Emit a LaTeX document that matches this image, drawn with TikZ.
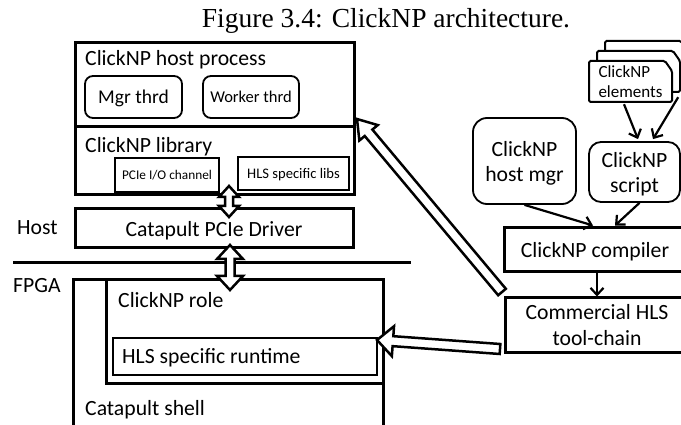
\documentclass[tikz,border=0pt]{standalone}
\usepackage{fontspec}
\setmainfont{Carlito}
\newfontfamily\capfont{Liberation Serif}
\usetikzlibrary{positioning,arrows.meta,calc}

\newcommand{\fatarrow}[5]{%
  \coordinate (fa-n) at ($(#2)!#5!(#1)$);
  \draw[hollow] ($(#1)!#3!90:(#2)$) -- ($(fa-n)!#3!-90:(#1)$) -- ($(fa-n)!#4!-90:(#1)$) -- (#2)
    -- ($(fa-n)!#4!90:(#1)$) -- ($(fa-n)!#3!90:(#1)$) -- ($(#1)!#3!-90:(#2)$) -- cycle;}
\newcommand{\fatdarrow}[5]{%
  \coordinate (fa-a) at ($(#1)!#5!(#2)$);
  \coordinate (fa-b) at ($(#2)!#5!(#1)$);
  \draw[hollow] (#1) -- ($(fa-a)!#4!90:(#2)$) -- ($(fa-a)!#3!90:(#2)$) -- ($(fa-b)!#3!-90:(#1)$)
    -- ($(fa-b)!#4!-90:(#1)$) -- (#2) -- ($(fa-b)!#4!90:(#1)$) -- ($(fa-b)!#3!90:(#1)$)
    -- ($(fa-a)!#3!-90:(#2)$) -- ($(fa-a)!#4!-90:(#2)$) -- cycle;}

\begin{document}
\begin{tikzpicture}[x=1pt,y=-1pt,
  box/.style={draw,line width=3pt,inner sep=0pt,text depth=0pt,font=\fontsize{21.7}{26}\selectfont},
  thinbox/.style={draw,line width=1.6pt,inner sep=0pt,text depth=0pt},
  rbox/.style={draw,line width=1.8pt,rounded corners=#1,inner sep=0pt,text depth=0pt,align=center,font=\fontsize{21.7}{25}\selectfont},
  rbox/.default=8pt,
  lbl/.style={inner sep=0pt,font=\fontsize{21.7}{26}\selectfont},
  hollow/.style={draw,fill=white,line width=2.5pt,line join=miter},
  conn/.style={line width=2.2pt,-{Straight Barb[length=7pt,width=13pt]}}]
  \useasboundingbox (0,0) rectangle (681,425);
  \clip (0,0) rectangle (681,425);
  \node[lbl,anchor=base,font=\capfont\fontsize{27.5}{32}\selectfont] (title) at (386,28) {Figure 3.4: ClickNP architecture.};

  \node[box,minimum width=279pt,minimum height=84pt] (hostp) at (214.5,85) {};
  \node[box,minimum width=279pt,minimum height=68pt] (lib) at (214.5,161) {};
  \node[lbl,anchor=base west] at (85,66) {ClickNP host process};
  \node[lbl,anchor=base west] at (85,153) {ClickNP library};
  \node[rbox,minimum width=97pt,minimum height=42pt,font=\fontsize{19.5}{23}\selectfont] (mgr) at (133.5,97) {Mgr thrd};
  \node[rbox,minimum width=96pt,minimum height=42pt,font=\fontsize{16.5}{20}\selectfont] (wrk) at (251,97) {Worker thrd};
  \node[thinbox,minimum width=104pt,minimum height=34pt,font=\fontsize{13.3}{16}\selectfont] (pcie) at (167,175) {PCIe I/O channel};
  \node[thinbox,minimum width=111pt,minimum height=33pt,font=\fontsize{14.6}{17}\selectfont] (hlslib) at (293.5,173.5) {HLS specific libs};
  \node[box,minimum width=278pt,minimum height=39pt] (drv) at (214,228.5) {Catapult PCIe Driver};
  \node[lbl,anchor=base west] (host) at (17,235) {Host};
  \draw[line width=3pt] (13,263) -- (411,263);
  \node[lbl,anchor=base west] (fpga) at (13,293) {FPGA};
  \node[box,minimum width=310pt,minimum height=160pt] (shell) at (228,360) {};
  \node[box,minimum width=277pt,minimum height=103pt] (role) at (244.5,331.5) {};
  \node[thinbox,line width=2pt,minimum width=264pt,minimum height=37pt] (rt) at (245,356.5) {};
  \node[lbl,anchor=base west] at (118,307) {ClickNP role};
  \node[lbl,anchor=base west] at (122,363) {HLS specific runtime};
  \node[lbl,anchor=base west] at (85,415) {Catapult shell};

  \foreach \i in {2,1,0}
    \draw[line width=2pt,fill=white,rounded corners=1.5pt] (589+8*\i,102-10*\i) -- ++(0,-41) -- ++(76,0) -- ++(7,10) -- ++(0,31) -- cycle;
  \node[lbl,align=left,font=\fontsize{17}{20}\selectfont,minimum width=83pt,minimum height=41pt] (elem) at (630.5,81.5) {ClickNP\\elements};
  \node[rbox=14pt,minimum width=103pt,minimum height=86pt] (hmgr) at (524.5,161) {ClickNP\\host mgr};
  \node[rbox=12pt,minimum width=91pt,minimum height=60pt] (script) at (634.5,172) {ClickNP\\script};
  \node[box,minimum width=182pt,minimum height=44pt] (comp) at (595,250) {ClickNP compiler};
  \node[box,minimum width=184pt,minimum height=54pt,align=center] (tool) at (597,325) {Commercial HLS\\tool-chain};

  \draw[conn] ($(elem.south)+(-6.5,2)$) -- ($(script.north)+(3.5,-2)$);
  \draw[conn] ($(elem.south east)+(6,-5)$) -- ($(script.north)+(18.5,-2)$);
  \draw[conn] (hmgr.south) -- ($(comp.north)+(-2,-1)$);
  \draw[conn] ($(script.south)+(5,0)$) -- ($(comp.north)+(20,-1)$);
  \draw[conn] ($(comp.south)+(2,0)$) -- (tool.north);

  \coordinate (libdn) at (229,186); \coordinate (drvup) at (229,217);
  \fatdarrow{libdn}{drvup}{4pt}{10pt}{11pt}
  \coordinate (drvdn) at (230,245); \coordinate (roleup) at (230,290);
  \fatdarrow{drvdn}{roleup}{4.5pt}{13pt}{14pt}
  \coordinate (toolsrc) at (502,292); \coordinate (hostin) at (357,119);
  \fatarrow{toolsrc}{hostin}{5pt}{12pt}{18pt}
  \coordinate (toolout) at (500,349); \coordinate (rtin) at (377,340);
  \fatarrow{toolout}{rtin}{5pt}{15pt}{16pt}
\end{tikzpicture}
\end{document}
